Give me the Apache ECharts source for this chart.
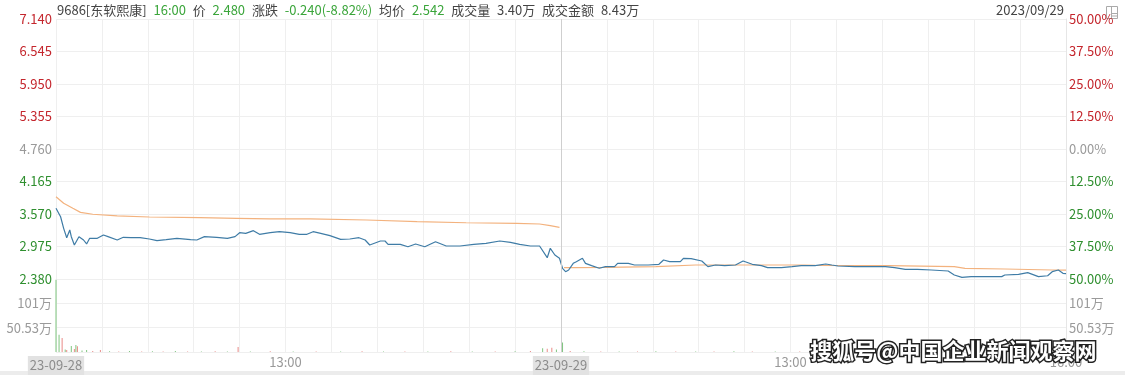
<!DOCTYPE html>
<html>
<head>
<meta charset="utf-8">
<script src="https://cdn.jsdelivr.net/npm/echarts@6/dist/echarts.min.js"></script>
<style>
html,body{margin:0;padding:0;background:#fff;}
#c{width:1125px;height:375px;}
</style>
</head>
<body>
<div id="c"></div>
<script>
// ---- data (minute offsets from 09:30 of 23-09-28; 330 minutes per trading day) ----
var prevClose = 4.760;
var priceTicks = [2.380, 2.975, 3.570, 4.165, 4.760, 5.355, 5.950, 6.545, 7.140];
var xLabelMap = {0: '23-09-28', 150: '13:00', 330: '23-09-29', 480: '13:00', 660: '16:00'};

var priceMinutes = [0,3,5,7,9,10,12,15,18,20,22,27,31,34,40,44,49,55,61,66,72,79,88,92,97,105,112,117,120,124,129,133,140,146,153,159,164,168,173,179,186,192,198,202,205,212,215,217,218,225,230,235,241,248,255,264,273,281,290,297,303,310,316,321,323,326,329,331,333,335,338,340,344,346,350,355,359,365,367,374,378,387,394,397,401,408,410,415,422,426,431,437,444,449,455,461,465,474,481,487,496,503,507,511,522,533,542,548,555,563,572,583,587,592,598,609,618,620,629,635,642,648,651,655,658,660];
var priceValues = [3.674,3.520,3.308,3.136,3.277,3.155,3.003,3.155,3.094,3.021,3.125,3.125,3.186,3.155,3.094,3.143,3.137,3.137,3.112,3.081,3.100,3.125,3.100,3.094,3.155,3.143,3.125,3.155,3.228,3.216,3.265,3.198,3.228,3.246,3.228,3.198,3.198,3.246,3.216,3.173,3.106,3.112,3.136,3.094,3.003,3.076,3.076,3.015,3.050,3.015,2.971,3.021,2.971,3.063,2.984,2.984,3.015,3.033,3.076,3.051,3.015,2.984,2.984,2.770,2.942,2.820,2.760,2.576,2.514,2.545,2.667,2.697,2.759,2.667,2.624,2.576,2.606,2.606,2.667,2.667,2.636,2.636,2.649,2.728,2.697,2.697,2.759,2.753,2.710,2.606,2.636,2.624,2.636,2.710,2.649,2.624,2.587,2.587,2.606,2.624,2.624,2.655,2.636,2.618,2.606,2.606,2.606,2.587,2.557,2.557,2.545,2.526,2.453,2.411,2.423,2.423,2.423,2.453,2.466,2.496,2.423,2.440,2.514,2.545,2.484,2.480];

var avgMinutes = [0,5,11,16,24,40,61,94,118,140,166,203,236,268,301,316,323,329,330,332,339,359,392,418,457,489,496,544,587,594,620,651,660];
var avgValues = [3.887,3.766,3.674,3.600,3.565,3.534,3.515,3.503,3.490,3.479,3.479,3.460,3.430,3.410,3.400,3.387,3.356,3.326,null,2.587,2.587,2.594,2.606,2.636,2.636,2.636,2.630,2.624,2.606,2.576,2.563,2.545,2.542];

// volume in 万, direction 1 = up (red), -1 = down (green)
var volMinutes = [0,2,4,6,7,10,12,13,14,17,20,24,29,35,41,48,56,63,70,78,86,95,104,112,119,127,140,155,170,186,200,214,228,243,258,272,287,300,310,318,321,324,327,331,336,345,356,368,380,392,405,418,430,443,455,470,486,500,515,530,546,560,575,590,605,620,635,648,658];
var volValues = [150,35.8,29,5,4,12.6,6,14.7,12,3,4,2,4,1.5,1.2,2,1,1.5,1,2,1.2,1,1.5,1.2,10.5,1,1.5,1,1.2,1,1.5,1,1.2,1,1.5,1,1,1.5,2,8,7,9,5,19.6,2,1.5,1,1.2,1,1.5,1,1.2,1,1.5,1,1.2,1,1.5,1,1.2,1,1.5,1,1.2,1,1.5,1,1.2,2];
var volDir = [-1,-1,1,-1,1,-1,1,-1,1,-1,-1,1,1,-1,1,-1,1,-1,1,-1,1,-1,1,-1,1,-1,1,-1,1,-1,1,-1,1,-1,1,-1,1,-1,1,-1,1,1,-1,-1,1,-1,1,-1,1,-1,1,-1,1,-1,1,-1,1,-1,1,-1,1,-1,1,-1,1,-1,1,-1,-1];

var volTickStep = 50.53;
var volMax = 151.59;

// ---- build ----
function zip(a, b) { var r = []; for (var i = 0; i < a.length; i++) r.push([a[i], b[i]]); return r; }
var priceData = zip(priceMinutes, priceValues);
var avgData = zip(avgMinutes, avgValues);
var volData = volMinutes.map(function (m, i) {
  return { value: [m, volValues[i]], itemStyle: { color: volDir[i] > 0 ? '#e98a86' : '#7fc57f' } };
});

var RED = '#c4262d', GREEN = '#2f8f2f', GREY = '#9a9a9a';
function priceColor(v) {
  v = Number(v);
  if (Math.abs(v - prevClose) < 1e-6) return GREY;
  return v > prevClose ? RED : GREEN;
}
function pctColor(v) {
  v = Number(v);
  if (Math.abs(v) < 1e-6) return GREY;
  return v > 0 ? RED : GREEN;
}
var FONT = '"Noto Sans CJK SC", "Noto Sans", sans-serif';

var chart = echarts.init(document.getElementById('c'), null, { renderer: 'canvas' });
var grid0 = { left: 56, right: 59, top: 19, height: 260 };
var grid1 = { left: 56, right: 59, top: 279, height: 73 };

var xCommon = {
  type: 'value', min: 0, max: 660, interval: 30,
  axisLine: { show: false }, axisTick: { show: false },
  splitLine: { show: true, lineStyle: { color: '#efefef', width: 1 } }
};

chart.setOption({
  animation: false,
  backgroundColor: '#fff',
  textStyle: { fontFamily: FONT },
  title: {
    left: 57, top: 4, padding: 0,
    text: '{k|9686[东软熙康]}  {g|16:00}  {k|价}  {g|2.480}  {k|涨跌}  {g|-0.240(-8.82%)}  {k|均价}  {g|2.542}  {k|成交量}  {k|3.40万}  {k|成交金额}  {k|8.43万}',
    textStyle: {
      fontWeight: 'normal', fontSize: 13,
      rich: {
        k: { color: '#444', fontSize: 13, fontWeight: 'normal', fontFamily: FONT, padding: [0, 1, 0, 0] },
        g: { color: '#3aa53a', fontSize: 13, fontWeight: 'normal', fontFamily: FONT, padding: [0, 1, 0, 0] }
      }
    }
  },
  grid: [grid0, grid1],
  xAxis: [
    Object.assign({}, xCommon, { gridIndex: 0, axisLabel: { show: false } }),
    Object.assign({}, xCommon, {
      gridIndex: 1,
      axisLabel: {
        show: true, showMinLabel: true, showMaxLabel: true, margin: 4,
        color: '#999', fontSize: 13, fontFamily: FONT,
        formatter: function (v) {
          var s = xLabelMap[Math.round(v)];
          if (!s) return '';
          if (s.indexOf('-') > 0) return '{d|' + s + '}';
          return s;
        },
        rich: {
          d: { color: '#8c8c8c', backgroundColor: '#e2e2e2', padding: [3, 2, 3, 2], fontSize: 13, fontFamily: FONT }
        }
      }
    })
  ],
  yAxis: [
    {
      type: 'value', gridIndex: 0, position: 'left',
      min: 2.38, max: 7.14, interval: 0.595,
      axisLine: { show: false }, axisTick: { show: false },
      splitLine: { show: true, lineStyle: { color: '#efefef' } },
      axisLabel: {
        margin: 4, fontSize: 13, fontFamily: FONT,
        formatter: function (v) { return Number(v).toFixed(3); },
        color: function (v) { return priceColor(v); }
      }
    },
    {
      type: 'value', gridIndex: 0, position: 'right',
      min: -50, max: 50, interval: 12.5,
      axisLine: { show: true, lineStyle: { color: '#e6e6e6' } }, axisTick: { show: false },
      splitLine: { show: false },
      axisLabel: {
        margin: 3, fontSize: 13, fontFamily: FONT,
        formatter: function (v) { return Math.abs(Number(v)).toFixed(2) + '%'; },
        color: function (v) { return pctColor(v); }
      }
    },
    {
      type: 'value', gridIndex: 1, position: 'left',
      min: 0, max: volMax, interval: volTickStep,
      axisLine: { show: false }, axisTick: { show: false },
      splitLine: { show: true, lineStyle: { color: '#efefef' } },
      axisLabel: {
        margin: 4, fontSize: 13, fontFamily: FONT, color: GREY,
        formatter: function (v) {
          if (v < 1 || v > volMax - 1) return '';
          return (v > 100 ? Math.round(v) : v.toFixed(2)) + '万';
        }
      }
    },
    {
      type: 'value', gridIndex: 1, position: 'right',
      min: 0, max: volMax, interval: volTickStep,
      axisLine: { show: true, lineStyle: { color: '#e6e6e6' } }, axisTick: { show: false },
      splitLine: { show: false },
      axisLabel: {
        margin: 3, fontSize: 13, fontFamily: FONT, color: GREY,
        formatter: function (v) {
          if (v < 1 || v > volMax - 1) return '';
          return (v > 100 ? Math.round(v) : v.toFixed(2)) + '万';
        }
      }
    }
  ],
  series: [
    {
      name: '均价', type: 'line', xAxisIndex: 0, yAxisIndex: 0,
      data: avgData, showSymbol: false, connectNulls: false,
      lineStyle: { color: '#f3b27e', width: 1.2 }
    },
    {
      name: '价', type: 'line', xAxisIndex: 0, yAxisIndex: 0,
      data: priceData, showSymbol: false,
      lineStyle: { color: '#3f7ca6', width: 1.2 },
      markLine: {
        silent: true, symbol: 'none', label: { show: false },
        lineStyle: { color: '#cfcfcf', type: 'solid', width: 1 },
        data: [{ xAxis: 330 }]
      }
    },
    {
      name: '成交量', type: 'bar', xAxisIndex: 1, yAxisIndex: 2,
      data: volData, barWidth: 1, barMinHeight: 0,
      markLine: {
        silent: true, symbol: 'none', label: { show: false },
        lineStyle: { color: '#cfcfcf', type: 'solid', width: 1 },
        data: [{ xAxis: 330 }]
      }
    }
  ],
  graphic: [
    {
      type: 'text', right: 61, top: 4,
      style: { text: '2023/09/29', fill: '#444', font: '13px ' + FONT }
    },
    {
      type: 'group', left: 1104, top: 4,
      children: [
        { type: 'rect', shape: { x: 0, y: 0, width: 11, height: 12 }, style: { fill: 'none', stroke: '#aaa', lineWidth: 1 } },
        { type: 'line', shape: { x1: 5, y1: 0, x2: 5, y2: 12 }, style: { stroke: '#aaa', lineWidth: 1 } },
        { type: 'line', shape: { x1: 5, y1: 7, x2: 11, y2: 7 }, style: { stroke: '#aaa', lineWidth: 1 } },
        { type: 'line', shape: { x1: 5, y1: 9.5, x2: 11, y2: 9.5 }, style: { stroke: '#aaa', lineWidth: 1 } }
      ]
    },
    {
      type: 'rect', left: 0, top: 371, shape: { width: 1125, height: 4 },
      style: { fill: '#ececec' }
    },
    {
      type: 'text', right: 27, top: 338,
      style: {
        text: '搜狐号@中国企业新闻观察网',
        font: 'bold 22px ' + FONT,
        fill: '#ffffff', stroke: '#222', lineWidth: 3
      },
      z: 100
    }
  ]
});
</script>
</body>
</html>
